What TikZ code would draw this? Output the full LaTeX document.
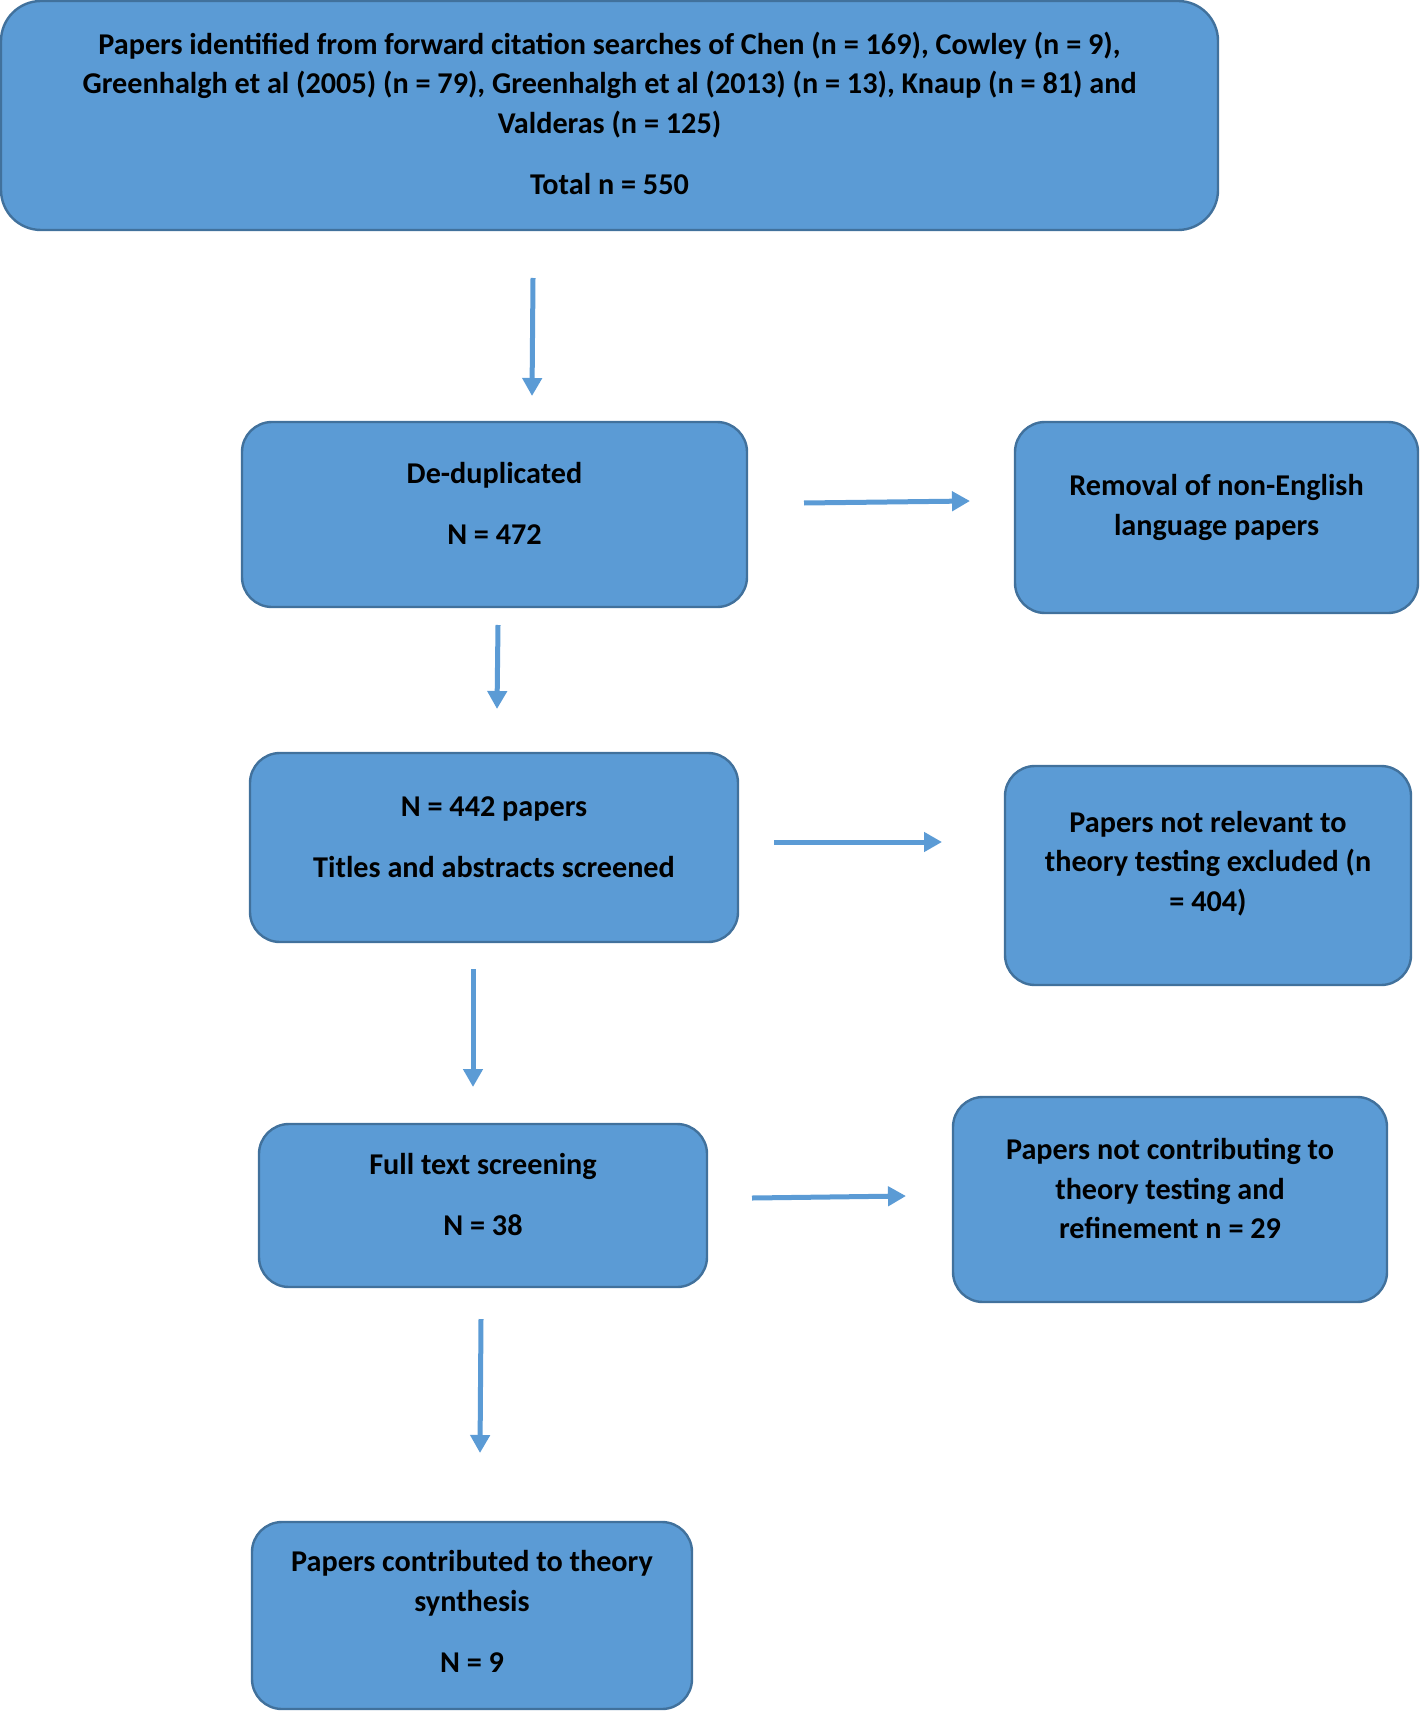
\documentclass[tikz,border=0pt]{standalone}
\usepackage{fontspec}
\setmainfont{Carlito}
\usetikzlibrary{arrows.meta}
\definecolor{boxfill}{HTML}{5B9BD5}
\definecolor{boxline}{HTML}{41719C}
\definecolor{arrcol}{HTML}{5B9BD5}
\begin{document}
\begin{tikzpicture}[x=0.5pt,y=-0.5pt,
  box/.style={draw=boxline,fill=boxfill,line width=1.2pt,rounded corners=15pt,inner sep=0pt},
  txt/.style={align=center,font=\bfseries\fontsize{15.1}{19.65}\selectfont,inner sep=0pt},
  arr/.style={draw=arrcol,line width=2.5pt,-{Triangle[width=9.5pt,length=9pt]}}]
\useasboundingbox (0,0) rectangle (1420,1711);
% boxes
\node[box,minimum width=608.5pt,minimum height=114.5pt,rounded corners=20pt] (top) at (609.5,115.5) {};
\node[box,minimum width=252.5pt,minimum height=92.5pt] (dedup) at (494.5,514.5) {};
\node[box,minimum width=201.5pt,minimum height=95.5pt] (removal) at (1216.5,517.5) {};
\node[box,minimum width=244pt,minimum height=94.5pt] (screen) at (494,847.5) {};
\node[box,minimum width=203pt,minimum height=109.5pt] (notrel) at (1208,875.5) {};
\node[box,minimum width=224pt,minimum height=81.5pt] (full) at (483,1205.5) {};
\node[box,minimum width=217pt,minimum height=102.5pt] (notcon) at (1170,1199.5) {};
\node[box,minimum width=220pt,minimum height=93.5pt] (final) at (472,1615.5) {};
% texts
\node[txt] (ttop) at ([yshift=1pt]top.center) {Papers identified from forward citation searches of Chen (n = 169), Cowley (n = 9),\\Greenhalgh et al (2005) (n = 79), Greenhalgh et al (2013) (n = 13), Knaup (n = 81) and\\Valderas (n = 125)\\[11pt]Total n = 550};
\node[txt] (tdedup) at ([yshift=5.5pt]dedup.center) {De-duplicated\\[11pt]N = 472};
\node[txt] (tremoval) at ([yshift=5pt]removal.center) {Removal of non-English\\language papers};
\node[txt] (tscreen) at ([yshift=5pt]screen.center) {N = 442 papers\\[11pt]Titles and abstracts screened};
\node[txt] (tnotrel) at ([yshift=6pt]notrel.center) {Papers not relevant to\\theory testing excluded (n\\= 404)};
\node[txt] (tfull) at ([yshift=5.5pt]full.center) {Full text screening\\[11pt]N = 38};
\node[txt] (tnotcon) at ([yshift=5.5pt]notcon.center) {Papers not contributing to\\theory testing and\\refinement n = 29};
\node[txt] (tfinal) at ([yshift=2pt]final.center) {Papers contributed to theory\\synthesis\\[11pt]N = 9};
% arrow coordinates
\coordinate (a1s) at (533,278); \coordinate (a1e) at (532,396);
\coordinate (a2s) at (498,625); \coordinate (a2e) at (497,709);
\coordinate (a3s) at (473,969); \coordinate (a3e) at (473,1087);
\coordinate (a4s) at (481,1319); \coordinate (a4e) at (480,1453);
\coordinate (h1s) at (804,503); \coordinate (h1e) at (970,501);
\coordinate (h2s) at (774,842); \coordinate (h2e) at (942,842);
\coordinate (h3s) at (752,1198); \coordinate (h3e) at (906,1196);
\draw[arr] (a1s) -- (a1e);
\draw[arr] (a2s) -- (a2e);
\draw[arr] (a3s) -- (a3e);
\draw[arr] (a4s) -- (a4e);
\draw[arr] (h1s) -- (h1e);
\draw[arr] (h2s) -- (h2e);
\draw[arr] (h3s) -- (h3e);
\end{tikzpicture}
\end{document}
